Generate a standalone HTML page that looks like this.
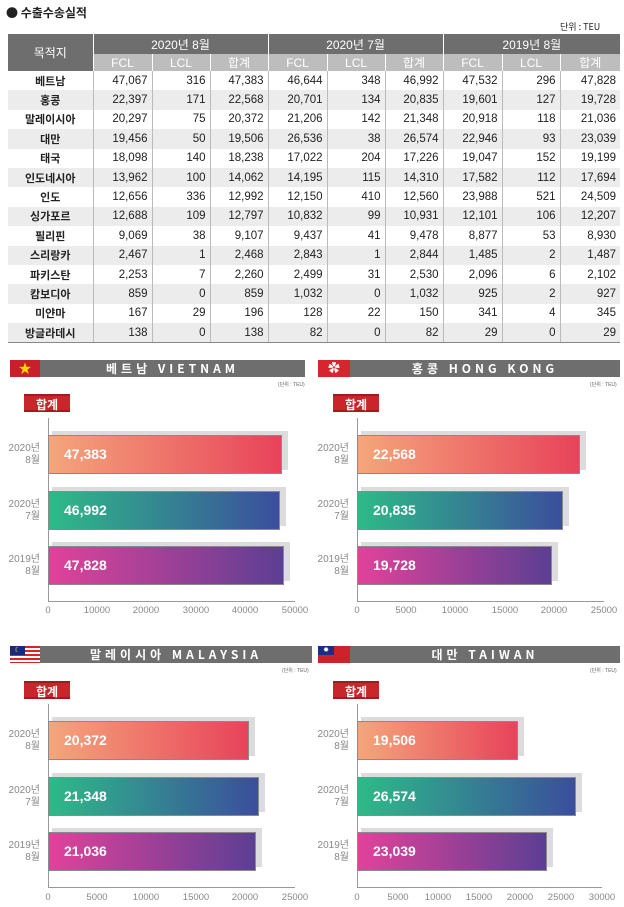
<!DOCTYPE html>
<html><head><meta charset="utf-8"><style>
*{margin:0;padding:0;box-sizing:border-box}
body{width:624px;height:907px;background:#fff;font-family:"Liberation Sans","Noto Sans CJK KR",sans-serif;position:relative;overflow:hidden;color:#222}
.a{position:absolute}
table{position:absolute;left:8px;top:34px;width:612px;border-collapse:collapse;font-size:11.5px;table-layout:fixed}
td{height:19.4px;text-align:right;padding-right:4px;border-left:1px solid #bbb}
td:first-child{text-align:center;border-left:none;padding:0;font-weight:bold;font-family:"Noto Sans CJK KR",sans-serif;font-size:11px}
tr.g td{background:#ececec}
th{font-weight:normal;color:#fff;font-size:12px}
.h1 th{background:#6e6e6e;height:20px;border-left:1px solid #fff}
.h2 th{background:#bdbdbd;height:16px;border-left:1px solid #fff}
.hd{background:#6e6e6e;height:17px;color:#fff;font-weight:bold;font-size:12px;letter-spacing:4px;text-align:center;line-height:17px;font-family:"Noto Sans CJK KR",sans-serif}
.unit{font-size:5px;color:#666}
.tag{background:#c8262a;color:#fff;font-weight:bold;font-size:12px;width:46px;height:18px;text-align:center;line-height:18px;font-family:"Noto Sans CJK KR",sans-serif;border-top:2px solid #a01a1e;border-bottom:2px solid #a01a1e}
.sh{background:#dcdcdc;height:39px}
.bar{height:39px;border:1px solid #8a8a8a;color:#fff;font-weight:bold;font-size:14px;line-height:37px;padding-left:15px}
.b1{background:linear-gradient(90deg,#f4a67b,#e8435a)}
.b2{background:linear-gradient(90deg,#2eba88,#3b4e9c)}
.b3{background:linear-gradient(90deg,#e1429a,#5b3f93)}
.yl{font-size:10px;color:#888;text-align:right;width:36px;line-height:12px}
.xl{font-size:9.5px;color:#888;width:40px;text-align:center}
.ax{background:#999}
</style></head><body>
<div class="a" style="left:6px;top:4px;font-size:12px;font-weight:bold;font-family:'Noto Sans CJK KR',sans-serif">● 수출수송실적</div>
<div class="a" style="left:560px;top:20px;font-size:9px;font-family:'Noto Sans CJK KR',sans-serif">단위 : TEU</div>
<table>
<colgroup><col style="width:85px"><col style="width:59px"><col style="width:58px"><col style="width:58px"><col style="width:59px"><col style="width:58px"><col style="width:58px"><col style="width:59px"><col style="width:58px"><col style="width:60px"></colgroup>
<tr class="h1"><th rowspan="2" style="background:#6e6e6e;border-left:none">목적지</th><th colspan="3">2020년 8월</th><th colspan="3">2020년 7월</th><th colspan="3">2019년 8월</th></tr>
<tr class="h2"><th>FCL</th><th>LCL</th><th>합계</th><th>FCL</th><th>LCL</th><th>합계</th><th>FCL</th><th>LCL</th><th>합계</th></tr>
<tr><td>베트남</td><td>47,067</td><td>316</td><td>47,383</td><td>46,644</td><td>348</td><td>46,992</td><td>47,532</td><td>296</td><td>47,828</td></tr>
<tr class="g"><td>홍콩</td><td>22,397</td><td>171</td><td>22,568</td><td>20,701</td><td>134</td><td>20,835</td><td>19,601</td><td>127</td><td>19,728</td></tr>
<tr><td>말레이시아</td><td>20,297</td><td>75</td><td>20,372</td><td>21,206</td><td>142</td><td>21,348</td><td>20,918</td><td>118</td><td>21,036</td></tr>
<tr class="g"><td>대만</td><td>19,456</td><td>50</td><td>19,506</td><td>26,536</td><td>38</td><td>26,574</td><td>22,946</td><td>93</td><td>23,039</td></tr>
<tr><td>태국</td><td>18,098</td><td>140</td><td>18,238</td><td>17,022</td><td>204</td><td>17,226</td><td>19,047</td><td>152</td><td>19,199</td></tr>
<tr class="g"><td>인도네시아</td><td>13,962</td><td>100</td><td>14,062</td><td>14,195</td><td>115</td><td>14,310</td><td>17,582</td><td>112</td><td>17,694</td></tr>
<tr><td>인도</td><td>12,656</td><td>336</td><td>12,992</td><td>12,150</td><td>410</td><td>12,560</td><td>23,988</td><td>521</td><td>24,509</td></tr>
<tr class="g"><td>싱가포르</td><td>12,688</td><td>109</td><td>12,797</td><td>10,832</td><td>99</td><td>10,931</td><td>12,101</td><td>106</td><td>12,207</td></tr>
<tr><td>필리핀</td><td>9,069</td><td>38</td><td>9,107</td><td>9,437</td><td>41</td><td>9,478</td><td>8,877</td><td>53</td><td>8,930</td></tr>
<tr class="g"><td>스리랑카</td><td>2,467</td><td>1</td><td>2,468</td><td>2,843</td><td>1</td><td>2,844</td><td>1,485</td><td>2</td><td>1,487</td></tr>
<tr><td>파키스탄</td><td>2,253</td><td>7</td><td>2,260</td><td>2,499</td><td>31</td><td>2,530</td><td>2,096</td><td>6</td><td>2,102</td></tr>
<tr class="g"><td>캄보디아</td><td>859</td><td>0</td><td>859</td><td>1,032</td><td>0</td><td>1,032</td><td>925</td><td>2</td><td>927</td></tr>
<tr><td>미얀마</td><td>167</td><td>29</td><td>196</td><td>128</td><td>22</td><td>150</td><td>341</td><td>4</td><td>345</td></tr>
<tr class="g"><td>방글라데시</td><td>138</td><td>0</td><td>138</td><td>82</td><td>0</td><td>82</td><td>29</td><td>0</td><td>29</td></tr>
</table>
<div class="a" style="left:8px;top:342px;width:612px;height:1px;background:#888"></div>

<!-- VIETNAM -->
<div class="a" style="left:10px;top:360px;width:30px;height:17px;background:#c8202a;color:#ffd700;text-align:center;font-size:13px;line-height:17px">★</div>
<div class="a hd" style="left:40px;top:360px;width:265px">베트남 VIETNAM</div>
<div class="a unit" style="left:278px;top:381px">(단위 : TEU)</div>
<div class="a tag" style="left:24px;top:394px">합계</div>
<div class="a ax" style="left:48px;top:418px;width:1px;height:184px"></div>
<div class="a ax" style="left:48px;top:601px;width:247px;height:1px"></div>
<div class="a sh" style="left:52px;top:431px;width:236px"></div>
<div class="a bar b1" style="left:48px;top:435px;width:234px">47,383</div>
<div class="a sh" style="left:52px;top:487px;width:234px"></div>
<div class="a bar b2" style="left:48px;top:491px;width:232px">46,992</div>
<div class="a sh" style="left:52px;top:542px;width:238px"></div>
<div class="a bar b3" style="left:48px;top:546px;width:236px">47,828</div>
<div class="a yl" style="left:4px;top:443px">2020년<br>8월</div>
<div class="a yl" style="left:4px;top:499px">2020년<br>7월</div>
<div class="a yl" style="left:4px;top:554px">2019년<br>8월</div>
<div class="a xl" style="left:28px;top:605px">0</div><div class="a xl" style="left:77px;top:605px">10000</div><div class="a xl" style="left:126px;top:605px">20000</div><div class="a xl" style="left:176px;top:605px">30000</div><div class="a xl" style="left:225px;top:605px">40000</div><div class="a xl" style="left:275px;top:605px">50000</div>

<!-- HONG KONG -->
<div class="a" style="left:318px;top:360px;width:32px;height:17px;background:#d7252e;color:#fff;text-align:center;font-size:12px;line-height:17px">✿</div>
<div class="a hd" style="left:350px;top:360px;width:270px">홍콩 HONG KONG</div>
<div class="a unit" style="left:590px;top:381px">(단위 : TEU)</div>
<div class="a tag" style="left:333px;top:394px">합계</div>
<div class="a ax" style="left:357px;top:418px;width:1px;height:184px"></div>
<div class="a ax" style="left:357px;top:601px;width:247px;height:1px"></div>
<div class="a sh" style="left:361px;top:431px;width:225px"></div>
<div class="a bar b1" style="left:357px;top:435px;width:223px">22,568</div>
<div class="a sh" style="left:361px;top:487px;width:208px"></div>
<div class="a bar b2" style="left:357px;top:491px;width:206px">20,835</div>
<div class="a sh" style="left:361px;top:542px;width:197px"></div>
<div class="a bar b3" style="left:357px;top:546px;width:195px">19,728</div>
<div class="a yl" style="left:313px;top:443px">2020년<br>8월</div>
<div class="a yl" style="left:313px;top:499px">2020년<br>7월</div>
<div class="a yl" style="left:313px;top:554px">2019년<br>8월</div>
<div class="a xl" style="left:337px;top:605px">0</div><div class="a xl" style="left:386px;top:605px">5000</div><div class="a xl" style="left:435px;top:605px">10000</div><div class="a xl" style="left:485px;top:605px">15000</div><div class="a xl" style="left:534px;top:605px">20000</div><div class="a xl" style="left:584px;top:605px">25000</div>

<!-- MALAYSIA -->
<div class="a" style="left:10px;top:646px;width:30px;height:17px;background:repeating-linear-gradient(180deg,#d22 0 2px,#fff 2px 4px)"></div>
<div class="a" style="left:10px;top:646px;width:15px;height:9px;background:#1a2a7a;color:#ffd700;font-size:7px;line-height:9px;text-align:center">☾</div>
<div class="a hd" style="left:40px;top:646px;width:272px">말레이시아 MALAYSIA</div>
<div class="a unit" style="left:282px;top:667px">(단위 : TEU)</div>
<div class="a tag" style="left:24px;top:681px">합계</div>
<div class="a ax" style="left:48px;top:704px;width:1px;height:184px"></div>
<div class="a ax" style="left:48px;top:887px;width:247px;height:1px"></div>
<div class="a sh" style="left:52px;top:717px;width:203px"></div>
<div class="a bar b1" style="left:48px;top:721px;width:201px">20,372</div>
<div class="a sh" style="left:52px;top:773px;width:213px"></div>
<div class="a bar b2" style="left:48px;top:777px;width:211px">21,348</div>
<div class="a sh" style="left:52px;top:828px;width:210px"></div>
<div class="a bar b3" style="left:48px;top:832px;width:208px">21,036</div>
<div class="a yl" style="left:4px;top:729px">2020년<br>8월</div>
<div class="a yl" style="left:4px;top:785px">2020년<br>7월</div>
<div class="a yl" style="left:4px;top:840px">2019년<br>8월</div>
<div class="a xl" style="left:28px;top:892px">0</div><div class="a xl" style="left:77px;top:892px">5000</div><div class="a xl" style="left:126px;top:892px">10000</div><div class="a xl" style="left:176px;top:892px">15000</div><div class="a xl" style="left:225px;top:892px">20000</div><div class="a xl" style="left:275px;top:892px">25000</div>

<!-- TAIWAN -->
<div class="a" style="left:318px;top:646px;width:32px;height:17px;background:#d0202a"></div>
<div class="a" style="left:318px;top:646px;width:16px;height:9px;background:#1c2a88;color:#fff;font-size:7px;line-height:9px;text-align:center">✹</div>
<div class="a hd" style="left:350px;top:646px;width:270px">대만 TAIWAN</div>
<div class="a unit" style="left:590px;top:667px">(단위 : TEU)</div>
<div class="a tag" style="left:333px;top:681px">합계</div>
<div class="a ax" style="left:357px;top:704px;width:1px;height:184px"></div>
<div class="a ax" style="left:357px;top:887px;width:245px;height:1px"></div>
<div class="a sh" style="left:361px;top:717px;width:163px"></div>
<div class="a bar b1" style="left:357px;top:721px;width:161px">19,506</div>
<div class="a sh" style="left:361px;top:773px;width:221px"></div>
<div class="a bar b2" style="left:357px;top:777px;width:219px">26,574</div>
<div class="a sh" style="left:361px;top:828px;width:192px"></div>
<div class="a bar b3" style="left:357px;top:832px;width:190px">23,039</div>
<div class="a yl" style="left:313px;top:729px">2020년<br>8월</div>
<div class="a yl" style="left:313px;top:785px">2020년<br>7월</div>
<div class="a yl" style="left:313px;top:840px">2019년<br>8월</div>
<div class="a xl" style="left:337px;top:892px">0</div><div class="a xl" style="left:378px;top:892px">5000</div><div class="a xl" style="left:418px;top:892px">10000</div><div class="a xl" style="left:459px;top:892px">15000</div><div class="a xl" style="left:500px;top:892px">20000</div><div class="a xl" style="left:541px;top:892px">25000</div><div class="a xl" style="left:582px;top:892px">30000</div>
</body></html>
